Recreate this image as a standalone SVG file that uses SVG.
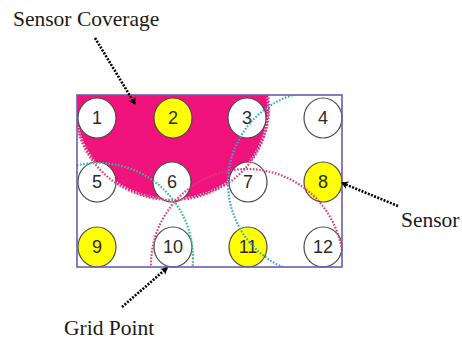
<svg xmlns="http://www.w3.org/2000/svg" width="462" height="340" viewBox="0 0 462 340">
<defs>
<clipPath id="field"><rect x="77" y="95" width="265" height="172"/></clipPath>
<marker id="ah" markerWidth="8" markerHeight="8" refX="6" refY="4" orient="auto" markerUnits="userSpaceOnUse">
<path d="M0,0 L7,4 L0,8 L2,4 Z" fill="#000"/>
</marker>
<style>
.lbl{font-family:"Liberation Serif","Times New Roman",serif;font-size:21.5px;fill:#1a1a1a}
.num{font-family:"Liberation Sans",Arial,sans-serif;font-size:18px;fill:#2a2a2a;text-anchor:middle;dominant-baseline:central}
.gp{stroke:#4a4a4a;stroke-width:1.2}
.w{fill:#fff}
.y{fill:#ffff00}
.dot{fill:none;stroke-width:2.2;stroke-dasharray:1.6 1.6}
.arr{fill:none;stroke:#000;stroke-width:2.6;stroke-dasharray:2 1.4}
</style>
</defs>
<rect width="462" height="340" fill="#fff"/>
<g id="coverage" clip-path="url(#field)">
<ellipse cx="172" cy="108" rx="97" ry="92" fill="#f0137b"/>
<ellipse cx="172" cy="108" rx="96" ry="91" fill="none" stroke="#fff" stroke-width="2" stroke-dasharray="1.2 1.8"/>
</g>
<g id="n1"><ellipse class="gp w" cx="97" cy="118" rx="19" ry="20"/><text class="num" x="97" y="118">1</text></g>
<g id="n2"><ellipse class="gp y" cx="173" cy="118" rx="19" ry="20"/><text class="num" x="173" y="118">2</text></g>
<g id="n3"><ellipse class="gp w" cx="247" cy="118" rx="19" ry="20"/><text class="num" x="247" y="118">3</text></g>
<g id="n4"><ellipse class="gp w" cx="323" cy="118" rx="19" ry="20"/><text class="num" x="323" y="118">4</text></g>
<g id="n5"><ellipse class="gp w" cx="97" cy="182" rx="19" ry="20"/><text class="num" x="97" y="182">5</text></g>
<g id="n6"><ellipse class="gp w" cx="172" cy="182" rx="19" ry="20"/><text class="num" x="172" y="182">6</text></g>
<g id="n7"><ellipse class="gp w" cx="248" cy="182" rx="19" ry="20"/><text class="num" x="248" y="182">7</text></g>
<g id="n8"><ellipse class="gp y" cx="323" cy="182" rx="19" ry="20"/><text class="num" x="323" y="182">8</text></g>
<g id="n9"><ellipse class="gp y" cx="97" cy="247" rx="19" ry="20"/><text class="num" x="97" y="247">9</text></g>
<g id="n10"><ellipse class="gp w" cx="173" cy="247" rx="19" ry="20"/><text class="num" x="173" y="247">10</text></g>
<g id="n11"><ellipse class="gp y" cx="248" cy="247" rx="19" ry="20"/><text class="num" x="248" y="247">11</text></g>
<g id="n12"><ellipse class="gp w" cx="323" cy="247" rx="19" ry="20"/><text class="num" x="323" y="247">12</text></g>
<g id="ranges" clip-path="url(#field)">
<ellipse class="dot" cx="172" cy="108" rx="97" ry="92" stroke="#dc3c7c"/>
<circle class="dot" cx="98" cy="258" r="95" stroke="#2dbf98"/>
<circle class="dot" cx="247" cy="265" r="96" stroke="#dc3c7c"/>
<circle class="dot" cx="320" cy="183" r="92" stroke="#33a6d6"/>
</g>
<rect id="field-border" x="77" y="95" width="265" height="172" fill="none" stroke="#6c5cb0" stroke-width="1.6"/>
<g id="connectors">
<line class="arr" x1="95" y1="38" x2="135" y2="104" marker-end="url(#ah)"/>
<line class="arr" x1="398" y1="206" x2="342" y2="183" marker-end="url(#ah)"/>
<line class="arr" x1="122" y1="307" x2="167" y2="268" marker-end="url(#ah)"/>
</g>
<g id="labels">
<text class="lbl" x="13" y="26">Sensor Coverage</text>
<text class="lbl" x="401" y="227">Sensor</text>
<text class="lbl" x="64" y="335">Grid Point</text>
</g>
</svg>
